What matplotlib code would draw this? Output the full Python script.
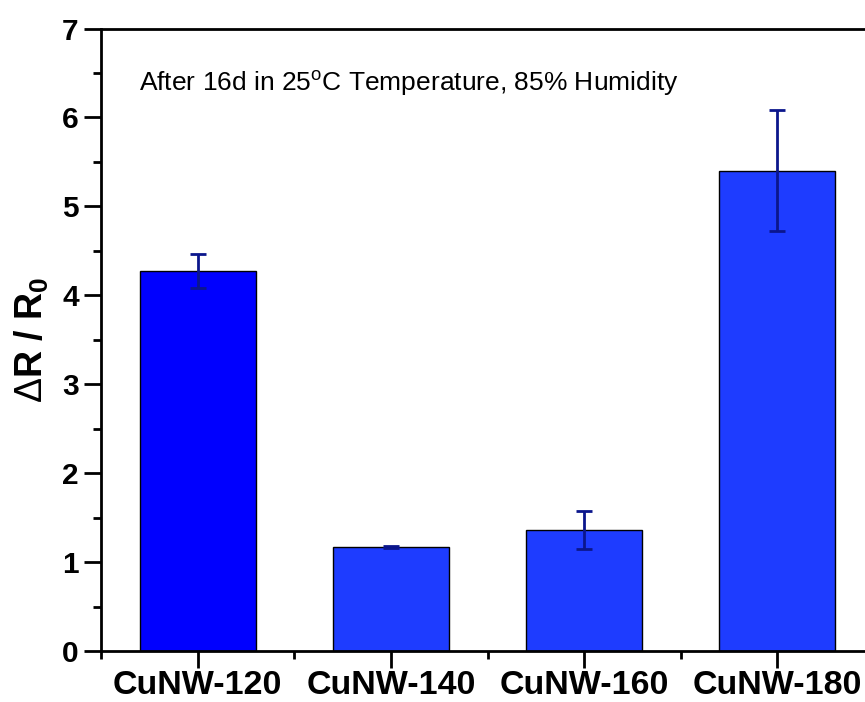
import numpy as np
import matplotlib
matplotlib.use("Agg")
import matplotlib.pyplot as plt
from matplotlib.ticker import MultipleLocator, FixedLocator

plt.rcParams['font.family'] = ['Liberation Sans', 'DejaVu Sans']
plt.rcParams['mathtext.fontset'] = 'custom'
plt.rcParams['mathtext.rm'] = 'Liberation Sans'
plt.rcParams['mathtext.bf'] = 'Liberation Sans:bold'

# Muestras y valores de ΔR/R0
samples = ['CuNW-120', 'CuNW-140', 'CuNW-160', 'CuNW-180']
ratio = [4.27, 1.17, 1.36, 5.40]
ratio_err = [0.19, 0.01, 0.21, 0.68]
bar_colors = ['#0000ff', '#1e3cff', '#1e3cff', '#1e3cff']

fig = plt.figure(figsize=(8.65, 7.02), dpi=100)
ax = fig.add_axes([0.1168, 0.0726, 0.8936, 0.8868])

x = np.arange(1, len(samples) + 1)
ax.bar(x, ratio, width=0.6, color=bar_colors, edgecolor='black', linewidth=1.0, zorder=2)
ax.errorbar(x, ratio, yerr=ratio_err, fmt='none', ecolor='#0b168c',
            elinewidth=2.0, capsize=5.5, capthick=2.0, zorder=3)

ax.set_xlim(0.5, 4.5)
ax.set_ylim(0, 7)
ax.set_xticks(x)
ax.set_xticklabels(samples, fontsize=24.5, fontweight='bold')
ax.xaxis.set_minor_locator(FixedLocator([0.5, 1.5, 2.5, 3.5, 4.5]))
ax.yaxis.set_major_locator(MultipleLocator(1))
ax.yaxis.set_minor_locator(MultipleLocator(0.5))
for lab in ax.get_yticklabels():
    lab.set_fontsize(21.5)
    lab.set_fontweight('bold')

ax.tick_params(which='major', direction='out', length=12, width=2, pad=4)
ax.tick_params(axis='x', which='major', pad=2)
ax.tick_params(which='minor', direction='out', length=6, width=2)
ax.tick_params(top=False, right=False, which='both')
for sp in ax.spines.values():
    sp.set_linewidth(2)

ax.set_ylabel('$\\mathrm{\\Delta}$R / R$_{\\mathbf{0}}$', fontsize=27, fontweight='bold', labelpad=8)

ax.text(0.049, 0.9, 'After 16d in 25$^{\\mathrm{o}}$C Temperature, 85% Humidity',
        transform=ax.transAxes, fontsize=19, ha='left', va='baseline')

fig.savefig('out.png', dpi=100)
